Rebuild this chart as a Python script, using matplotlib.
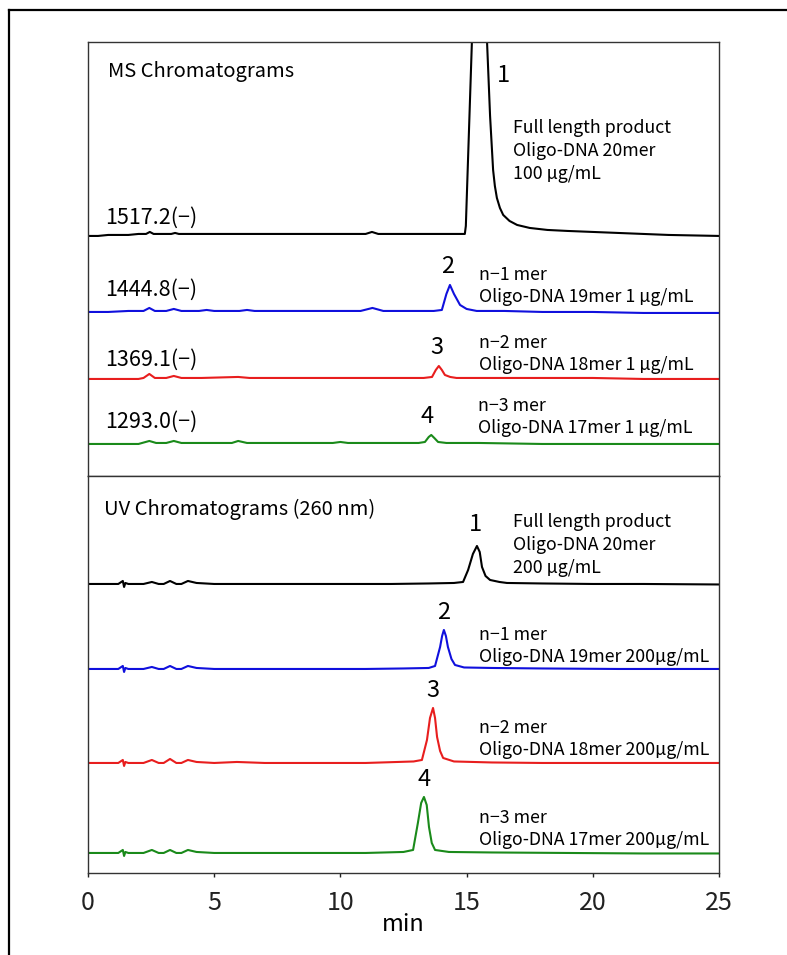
import matplotlib
matplotlib.use("Agg")
import matplotlib.pyplot as plt
from matplotlib.lines import Line2D

plt.rcParams['font.family'] = ['Noto Sans CJK JP', 'DejaVu Sans']

# --- traces: time (min) and signal above baseline ---
# MS chromatograms
ms1_t = [0, 0.4, 0.8, 1.2, 1.6, 2.0, 2.3, 2.45, 2.6, 3.0, 3.3, 3.45, 3.6, 4.2, 5.0, 6.0, 7.0, 8.0, 9.0,
         10.0, 11.0, 11.25, 11.5, 12.5, 13.5, 14.5, 14.93, 14.97, 15.21, 15.5, 15.81, 15.93, 16.05, 16.12,
         16.2, 16.32, 16.45, 16.7, 17.0, 17.5, 18.2, 19.0, 21.0, 23.0, 25.0]
ms1_y = [0, 0, 1, 1, 1, 2, 2, 4, 2, 2, 2, 3, 2, 2, 2, 2, 2, 2, 2,
         2, 2, 4, 2, 2, 2, 2, 2, 10, 194, 420, 194, 120, 66, 50,
         38, 28, 21, 15, 11, 8, 6, 5, 3, 1, 0]

ms2_t = [0, 0.8, 1.6, 2.2, 2.43, 2.65, 3.1, 3.4, 3.7, 4.4, 4.7, 5.0, 6.0, 6.3, 6.6, 8.0, 9.5, 10.8, 11.27,
         11.7, 12.8, 13.7, 14.02, 14.2, 14.34, 14.5, 14.74, 15.0, 15.4, 16.5, 18.0, 20.0, 22.0, 25.0]
ms2_y = [0, 0, 1, 1, 4, 1, 1, 3, 1, 1, 2, 1, 1, 2, 1, 1, 1, 1, 4,
         1, 1, 1, 2, 18, 27, 18, 7, 3, 1, 1, 0, 0, -1, -1]

ms3_t = [0, 1.0, 2.0, 2.2, 2.43, 2.65, 3.1, 3.4, 3.7, 4.5, 5.95, 6.4, 8.0, 10.0, 12.0, 13.3, 13.63, 13.78,
         13.9, 14.02, 14.14, 14.35, 14.6, 16.0, 18.0, 20.0, 22.0, 25.0]
ms3_y = [0, 0, 0, 1, 5, 1, 1, 3, 1, 1, 2, 1, 1, 1, 1, 1, 2, 9,
         13, 9, 4, 2, 1, 1, 1, 1, 0, 0]

ms4_t = [0, 1.0, 2.0, 2.43, 2.7, 3.1, 3.4, 3.7, 4.5, 5.7, 5.95, 6.3, 8.0, 9.7, 10.0, 10.3, 12.0, 13.1,
         13.35, 13.5, 13.6, 13.72, 13.87, 14.2, 15.5, 18.0, 21.0, 25.0]
ms4_y = [0, 0, 0, 3, 1, 1, 3, 1, 1, 1, 3, 1, 1, 1, 2, 1, 1, 1,
         2, 7, 9, 6, 2, 1, 1, 0, 0, 0]

# UV chromatograms (260 nm)
uv1_t = [0, 1.2, 1.38, 1.43, 1.48, 1.6, 2.2, 2.53, 2.8, 3.0, 3.25, 3.5, 3.7, 3.96, 4.3, 5.0, 6.0, 8.0,
         10.0, 12.0, 13.5, 14.5, 14.86, 15.06, 15.25, 15.41, 15.52, 15.61, 15.75, 15.93, 16.3, 16.6,
         18.0, 20.0, 22.0, 25.0]
uv1_y = [0, 0, 3, -3, 1, 0, 0, 2, 0, 0, 3, 0, 0, 3, 1, 0, 0, 0,
         0, 0, 0.5, 1, 2, 14, 30, 38, 32, 17, 8, 4, 2, 1,
         0.5, 0, 0, -0.5]

uv2_t = [0, 1.2, 1.38, 1.43, 1.48, 1.6, 2.2, 2.53, 2.8, 3.0, 3.25, 3.5, 3.7, 3.96, 4.3, 5.0, 7.0, 9.0,
         11.0, 12.5, 13.5, 13.75, 13.95, 14.03, 14.1, 14.18, 14.26, 14.4, 14.54, 14.9, 16.0, 18.0,
         21.0, 25.0]
uv2_y = [0, 0, 3, -3, 1, 0, 0, 2, 0, 0, 3, 0, 0, 3, 1, 0, 0, 0,
         0, 0.5, 1, 3, 22, 33, 39, 33, 22, 10, 4, 1.5, 1, 0.5,
         0, 0]

uv3_t = [0, 1.2, 1.38, 1.43, 1.48, 1.6, 2.2, 2.53, 2.8, 3.0, 3.25, 3.5, 3.7, 3.96, 4.3, 5.0, 5.9, 7.0,
         9.0, 11.0, 12.9, 13.23, 13.43, 13.55, 13.67, 13.75, 13.83, 13.95, 14.07, 14.5, 16.0, 18.0,
         21.0, 25.0]
uv3_y = [0, 0, 3, -3, 1, 0, 0, 3, 0, 0, 4, 0, 0, 3, 1, 0, 1, 0,
         0, 0, 1.5, 3, 23, 45, 55, 45, 26, 12, 5, 1.5, 0.5, 0,
         0, 0]

uv4_t = [0, 1.2, 1.38, 1.43, 1.48, 1.6, 2.2, 2.53, 2.8, 3.0, 3.25, 3.5, 3.7, 3.96, 4.3, 5.0, 7.0, 9.0,
         11.0, 12.5, 12.88, 13.07, 13.2, 13.31, 13.42, 13.51, 13.62, 13.75, 14.3, 16.0, 19.0, 22.0, 25.0]
uv4_y = [0, 0, 3, -3, 1, 0, 0, 3, 0, 0, 3, 0, 0, 3, 1, 0, 0, 0,
         0, 1, 3, 30, 50, 56, 48, 26, 10, 3, 1, 0.5, 0, -0.5, -0.5]

ms_masses = ["1517.2(−)", "1444.8(−)", "1369.1(−)", "1293.0(−)"]
peak_ids = ["1", "2", "3", "4"]
ms_notes = ["Full length product\nOligo-DNA 20mer\n100 µg/mL",
            "n−1 mer\nOligo-DNA 19mer 1 µg/mL",
            "n−2 mer\nOligo-DNA 18mer 1 µg/mL",
            "n−3 mer\nOligo-DNA 17mer 1 µg/mL"]
uv_notes = ["Full length product\nOligo-DNA 20mer\n200 µg/mL",
            "n−1 mer\nOligo-DNA 19mer 200µg/mL",
            "n−2 mer\nOligo-DNA 18mer 200µg/mL",
            "n−3 mer\nOligo-DNA 17mer 200µg/mL"]

colors = ["black", "#1010dd", "#e81e1e", "#1a8a1a"]
ms_offsets = [240, 164, 97, 32]
uv_offsets = [289, 204, 110, 20]

fig = plt.figure(figsize=(7.87, 9.55), dpi=100)

# outer frame (only top and left edges are visible)
fig.add_artist(Line2D([0.0114, 1.0], [0.9895, 0.9895], color="black", lw=1.6))
fig.add_artist(Line2D([0.0114, 0.0114], [0.0, 0.9895], color="black", lw=1.6))

ax_ms = fig.add_axes([0.1118, 0.5016, 0.8018, 0.4545])
ax_uv = fig.add_axes([0.1118, 0.0859, 0.8018, 0.4157])

for ax, top in [(ax_ms, 434), (ax_uv, 397)]:
    ax.set_xlim(0, 25)
    ax.set_ylim(0, top)
    ax.set_yticks([])
    for sp in ax.spines.values():
        sp.set_color("#333333")
        sp.set_linewidth(1.0)

ax_ms.set_xticks([])
ax_uv.set_xticks([0, 5, 10, 15, 20, 25])
ax_uv.tick_params(axis="x", direction="out", length=3, width=1, pad=9, labelsize=18, colors="#222222")
ax_uv.set_xlabel("min", fontsize=17, labelpad=-2)

ms_traces = [(ms1_t, ms1_y), (ms2_t, ms2_y), (ms3_t, ms3_y), (ms4_t, ms4_y)]
uv_traces = [(uv1_t, uv1_y), (uv2_t, uv2_y), (uv3_t, uv3_y), (uv4_t, uv4_y)]

for (t, y), off, c in zip(ms_traces, ms_offsets, colors):
    ax_ms.plot(t, [v + off for v in y], color=c, lw=1.5, solid_joinstyle="round")
for (t, y), off, c in zip(uv_traces, uv_offsets, colors):
    ax_uv.plot(t, [v + off for v in y], color=c, lw=1.5, solid_joinstyle="round")

# --- MS panel text ---
ax_ms.text(0.79, 404, "MS Chromatograms", fontsize=14.5, ha="left", va="center")
mass_y = [258, 186, 116, 54]
for lab, yy in zip(ms_masses, mass_y):
    ax_ms.text(0.67, yy, lab, fontsize=15.5, ha="left", va="center")

ms_id_pos = [(16.44, 400), (14.26, 209), (13.83, 128), (13.43, 59)]
for lab, (xx, yy) in zip(peak_ids, ms_id_pos):
    ax_ms.text(xx, yy, lab, fontsize=17, ha="center", va="center")

ms_note_pos = [(16.84, 325), (15.49, 190), (15.49, 122), (15.45, 59)]
for note, (xx, yy) in zip(ms_notes, ms_note_pos):
    ax_ms.text(xx, yy, note, fontsize=12.8, ha="left", va="center", linespacing=1.35)

# --- UV panel text ---
ax_uv.text(0.63, 364, "UV Chromatograms (260 nm)", fontsize=14.5, ha="left", va="center")

uv_id_pos = [(15.37, 348), (14.1, 260), (13.67, 182), (13.31, 93)]
for lab, (xx, yy) in zip(peak_ids, uv_id_pos):
    ax_uv.text(xx, yy, lab, fontsize=17, ha="center", va="center")

uv_note_pos = [(16.84, 328), (15.49, 227), (15.49, 134), (15.49, 44)]
for note, (xx, yy) in zip(uv_notes, uv_note_pos):
    ax_uv.text(xx, yy, note, fontsize=12.8, ha="left", va="center", linespacing=1.35)

fig.savefig("out.png", dpi=100)
